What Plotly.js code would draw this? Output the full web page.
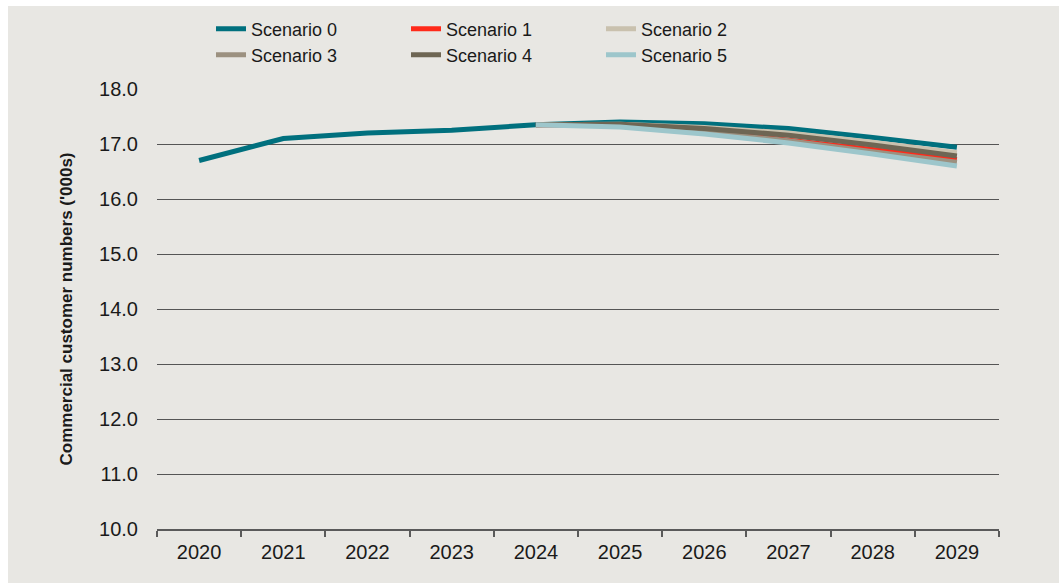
<!DOCTYPE html>
<html>
<head>
<meta charset="utf-8">
<script src="https://cdn.plot.ly/plotly-3.0.1.min.js"></script>
<style>
  html, body { margin: 0; padding: 0; background: #ffffff; }
  #chart { position: absolute; left: 8px; top: 6px; width: 1051px; height: 577px; }
</style>
</head>
<body>
<div id="chart"></div>
<script>
// Commercial customer numbers ('000s) by scenario, 2020–2029
const years = ['2020', '2021', '2022', '2023', '2024', '2025', '2026', '2027', '2028', '2029'];

const scenario0 = [16.70, 17.10, 17.20, 17.25, 17.35, 17.40, 17.37, 17.28, 17.12, 16.94];
const scenario1 = [null, null, null, null, 17.35, 17.35, 17.24, 17.08, 16.90, 16.72];
const scenario2 = [null, null, null, null, 17.35, 17.36, 17.30, 17.20, 17.03, 16.84];
const scenario3 = [null, null, null, null, 17.35, 17.34, 17.22, 17.06, 16.86, 16.67];
const scenario4 = [null, null, null, null, 17.35, 17.36, 17.28, 17.16, 16.98, 16.78];
const scenario5 = [null, null, null, null, 17.35, 17.31, 17.18, 17.02, 16.82, 16.60];

const seriesNames = ['Scenario 0', 'Scenario 1', 'Scenario 2', 'Scenario 3', 'Scenario 4', 'Scenario 5'];
const seriesValues = [scenario0, scenario1, scenario2, scenario3, scenario4, scenario5];
const seriesColors = ['#00707e', '#ff2a1a', '#c9c1ae', '#9c9180', '#6e6654', '#9dc6cb'];
const yTicks = [10, 11, 12, 13, 14, 15, 16, 17, 18];

const tickFont = { family: 'Liberation Sans, Arial, sans-serif', size: 20, color: '#1a1a1a' };
const legendFont = { family: 'Liberation Sans Narrow, Arial Narrow, Liberation Sans, sans-serif', size: 18, color: '#1a1a1a' };

const traces = seriesNames.map((name, i) => ({
  type: 'scatter',
  mode: 'lines',
  name: name,
  x: years,
  y: seriesValues[i],
  line: { color: seriesColors[i], width: 5 },
  connectgaps: false,
  legend: i < 3 ? 'legend' : 'legend2',
  hoverinfo: 'x+y+name'
}));

const legendBase = {
  orientation: 'h',
  xref: 'container',
  yref: 'container',
  xanchor: 'left',
  yanchor: 'middle',
  x: 203 / 1051,
  entrywidth: 150,
  entrywidthmode: 'pixels',
  bgcolor: 'rgba(0,0,0,0)',
  borderwidth: 0,
  font: legendFont,
  traceorder: 'normal'
};

const layout = {
  width: 1051,
  height: 577,
  paper_bgcolor: '#e8e7e3',
  plot_bgcolor: '#e8e7e3',
  margin: { l: 149, r: 60, t: 83, b: 54, pad: 0 },
  showlegend: true,
  legend: Object.assign({}, legendBase, { y: 1 - 23 / 577 }),
  legend2: Object.assign({}, legendBase, { y: 1 - 49 / 577 }),
  xaxis: {
    type: 'category',
    categoryorder: 'array',
    categoryarray: years,
    range: [-0.5, years.length - 0.5],
    showgrid: false,
    zeroline: false,
    showline: true,
    linecolor: '#5a5a5a',
    linewidth: 1.5,
    ticks: 'outside',
    tickson: 'boundaries',
    ticklen: 6,
    tickwidth: 1.5,
    tickcolor: '#5a5a5a',
    tickfont: tickFont,
    ticklabelstandoff: 4,
    fixedrange: true
  },
  yaxis: {
    range: [10, 18],
    tickvals: yTicks,
    ticktext: yTicks.map(v => v.toFixed(1)),
    showgrid: true,
    gridcolor: '#555555',
    gridwidth: 1,
    zeroline: false,
    showline: false,
    ticks: '',
    tickfont: tickFont,
    ticklabelstandoff: 18,
    title: {
      text: "Commercial customer numbers ('000s)",
      font: { family: 'Liberation Sans, Arial, sans-serif', size: 17, color: '#1a1a1a', weight: 'bold' },
      standoff: 22
    },
    fixedrange: true
  },
  hovermode: 'closest'
};

Plotly.newPlot('chart', traces, layout, { displayModeBar: false, responsive: false });
</script>
</body>
</html>
